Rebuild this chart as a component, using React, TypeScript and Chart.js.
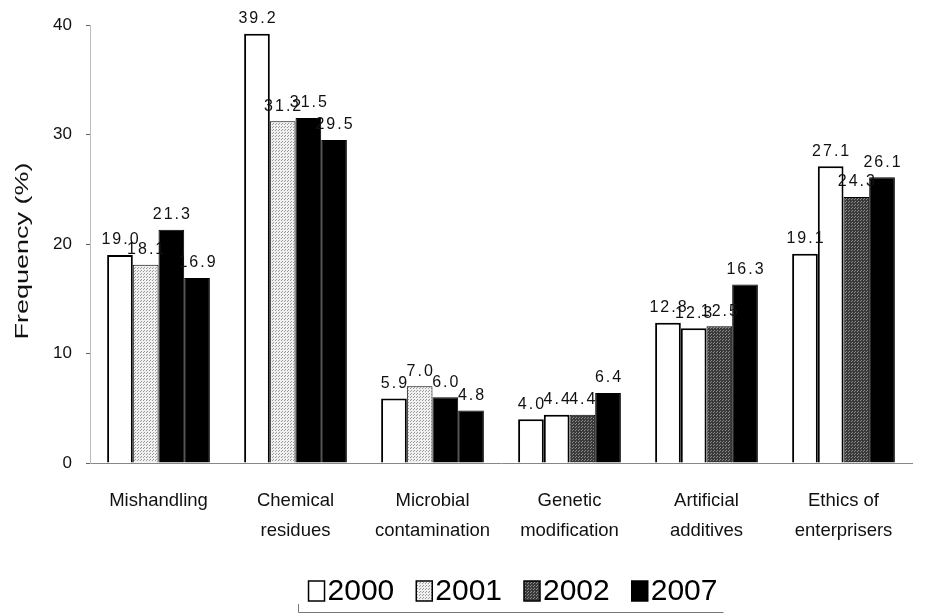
import React, { useEffect, useRef } from "react";
import { Chart, registerables } from "chart.js";

Chart.register(...registerables);

const categories = [
  ["Mishandling"],
  ["Chemical", "residues"],
  ["Microbial", "contamination"],
  ["Genetic", "modification"],
  ["Artificial", "additives"],
  ["Ethics of", "enterprisers"],
];
const seriesNames = ["2000", "2001", "2002", "2007"];
const values2000 = [19.0, 39.2, 5.9, 4.0, 12.8, 19.1];
const values2001 = [18.1, 31.2, 7.0, 4.4, 12.3, 27.1];
const values2002 = [21.3, 31.5, 6.0, 4.4, 12.5, 24.3];
const values2007 = [16.9, 29.5, 4.8, 6.4, 16.3, 26.1];
const yTicks = [0, 10, 20, 30, 40];
const yTitle = "Frequency (%)";

// fill style per bar as it appears in the scanned figure
const fill2001 = ["light", "light", "light", "white", "white", "white"];
const fill2002 = ["black", "black", "black", "dark", "dark", "dark"];

function makePattern(bg: string, dot: string): CanvasPattern | string {
  const c = document.createElement("canvas");
  c.width = 3;
  c.height = 3;
  const ctx = c.getContext("2d");
  if (!ctx) return bg;
  ctx.fillStyle = bg;
  ctx.fillRect(0, 0, 3, 3);
  ctx.fillStyle = dot;
  ctx.fillRect(0, 0, 1, 1);
  ctx.fillRect(2, 1, 1, 1);
  const p = ctx.createPattern(c, "repeat");
  return p || bg;
}

const FONT = "'Liberation Sans', Arial, sans-serif";

export default function App() {
  const ref = useRef<HTMLCanvasElement>(null);
  useEffect(() => {
    if (!ref.current) return;
    const light = makePattern("#f0f0f0", "#9a9a9a");
    const dark = makePattern("#3a3a3a", "#8a8a8a");
    const fills: Record<string, any> = { white: "#ffffff", light, dark, black: "#000000" };
    const legendFills = [fills.white, light, dark, fills.black];

    const extras = {
      id: "extras",
      afterDatasetsDraw(chart: any) {
        const ctx = chart.ctx;
        const area = chart.chartArea;
        // value labels
        ctx.save();
        ctx.font = "16px " + FONT;
        (ctx as any).letterSpacing = "2px";
        ctx.fillStyle = "#111";
        ctx.textAlign = "center";
        ctx.textBaseline = "bottom";
        chart.data.datasets.forEach((ds: any, di: number) => {
          const meta = chart.getDatasetMeta(di);
          meta.data.forEach((bar: any, i: number) => {
            const v = ds.data[i];
            ctx.fillText(v.toFixed(1), bar.x + 1, bar.y - 7);
          });
        });
        (ctx as any).letterSpacing = "0px";
        ctx.restore();

        // y axis title (stretched like the scanned original)
        ctx.save();
        ctx.translate(23, 251);
        ctx.rotate(-Math.PI / 2);
        ctx.scale(1.42, 1);
        ctx.font = "19px " + FONT;
        ctx.fillStyle = "#111";
        ctx.textAlign = "center";
        ctx.textBaseline = "middle";
        ctx.fillText(yTitle, 0, 0);
        ctx.restore();

        // legend
        ctx.save();
        ctx.font = "30px " + FONT;
        ctx.textBaseline = "middle";
        ctx.fillStyle = "#000";
        const boxW = 16;
        const boxH = 20;
        const gapBox = 3;
        const gapItem = 22;
        const widths = seriesNames.map((n) => boxW + gapBox + ctx.measureText(n).width);
        const total = widths.reduce((a, b) => a + b, 0) + gapItem * (seriesNames.length - 1);
        const x0 = (area.left + area.right) / 2 + 12 - total / 2;
        let x = x0;
        const cy = 591;
        seriesNames.forEach((n, i) => {
          ctx.fillStyle = legendFills[i];
          ctx.fillRect(x, cy - boxH / 2, boxW, boxH);
          ctx.strokeStyle = "#000";
          ctx.lineWidth = 1.5;
          ctx.strokeRect(x, cy - boxH / 2, boxW, boxH);
          ctx.fillStyle = "#000";
          ctx.fillText(n, x + boxW + gapBox, cy + 1);
          x += widths[i] + gapItem;
        });
        const lx0 = x0 - 10;
        ctx.strokeStyle = "#777";
        ctx.lineWidth = 1;
        ctx.beginPath();
        ctx.moveTo(lx0, 604);
        ctx.lineTo(lx0, 612.5);
        ctx.lineTo(lx0 + total + 16, 612.5);
        ctx.stroke();
        ctx.restore();
      },
    };

    const chart = new Chart(ref.current, {
      type: "bar",
      data: {
        labels: categories as any,
        datasets: [
          {
            label: seriesNames[0],
            data: values2000,
            backgroundColor: "#ffffff",
            borderColor: "#000",
            borderWidth: 2,
          },
          {
            label: seriesNames[1],
            data: values2001,
            backgroundColor: fill2001.map((f) => fills[f]),
            borderColor: "#000",
            borderWidth: fill2001.map((f) => (f === "white" ? 2 : 1)),
          },
          {
            label: seriesNames[2],
            data: values2002,
            backgroundColor: fill2002.map((f) => fills[f]),
            borderColor: "#000",
            borderWidth: 1,
          },
          {
            label: seriesNames[3],
            data: values2007,
            backgroundColor: "#000000",
            borderColor: "#000",
            borderWidth: 1,
          },
        ],
      },
      options: {
        responsive: false,
        maintainAspectRatio: false,
        animation: false,
        layout: { padding: { top: 25, right: 31, left: 0, bottom: 59 } },
        datasets: { bar: { categoryPercentage: 0.75, barPercentage: 1 } },
        plugins: {
          tooltip: { enabled: false },
          legend: { display: false },
        },
        scales: {
          x: {
            grid: { display: false },
            border: { display: true, color: "#888", dash: [3, 3] },
            ticks: {
              color: "#111",
              font: { size: 18.5, family: FONT, lineHeight: 1.62 },
              padding: 15,
              maxRotation: 0,
              autoSkip: false,
            },
            afterFit: (s: any) => {
              s.height = 92;
            },
          },
          y: {
            min: 0,
            max: 40,
            afterBuildTicks: (s: any) => {
              s.ticks = yTicks.map((v) => ({ value: v }));
            },
            grid: { drawOnChartArea: false, tickLength: 4, color: "#666" },
            border: { display: true, color: "#bbb", dash: [2, 6] },
            ticks: {
              color: "#111",
              font: { size: 17, family: FONT },
              padding: 14,
            },
            afterFit: (s: any) => {
              s.width = 90;
            },
          },
        },
      },
      plugins: [extras],
    });
    return () => chart.destroy();
  }, []);

  return (
    <div style={{ position: "absolute", left: 0, top: 0, width: 943, height: 614, background: "#fff" }}>
      <canvas ref={ref} width={943} height={614} />
    </div>
  );
}
